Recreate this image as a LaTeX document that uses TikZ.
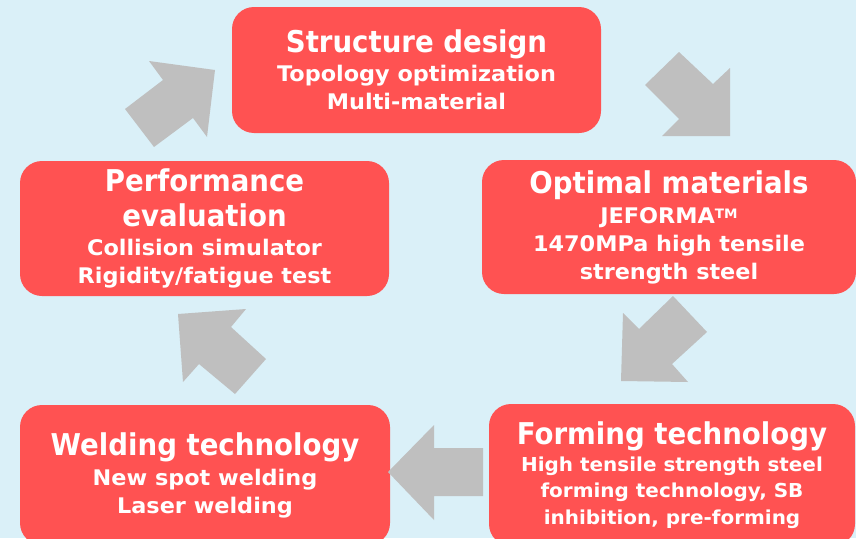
\documentclass[tikz,border=0pt]{standalone}
\usepackage{fontspec}
\setmainfont{DejaVu Sans}
\newfontfamily\headfont{DejaVu Sans}[FakeStretch=0.92]
\newfontfamily\bodyfont{DejaVu Sans}[FakeStretch=1.04]
\definecolor{bgblue}{RGB}{218,240,248}
\definecolor{boxred}{RGB}{255,82,82}
\definecolor{arrowgray}{RGB}{191,191,191}
\newcommand{\headline}[1]{{\headfont\fontsize{30}{30}\selectfont #1}}

\begin{document}
\begin{tikzpicture}[x=1pt, y=-1pt,
  stagebox/.style={fill=boxred, rounded corners=22pt, inner sep=0pt, text=white,
    align=center, font=\bodyfont\bfseries\fontsize{21.5}{28}\selectfont},
  cyclearrow/.style={fill=arrowgray}]
\fill[bgblue] (0,0) rectangle (856,538);
\useasboundingbox (0,0) rectangle (856,538);
% the five stages
\node[stagebox, minimum width=369pt, minimum height=126pt] (design) at (416.5,70)
  {\headline{Structure design}\\[1pt] Topology optimization\\ Multi-material};
\node[stagebox, minimum width=374pt, minimum height=134pt] (materials) at (669,227)
  {\headline{Optimal materials}\\[2pt] JEFORMA\raisebox{4.8pt}{\fontsize{13}{13}\selectfont TM}\\ 1470MPa high tensile\\ strength steel};
\node[stagebox, minimum width=366pt, minimum height=142pt,
  font=\bodyfont\bfseries\fontsize{19.2}{26.5}\selectfont] (forming) at (672,475)
  {\headline{Forming technology}\\ High tensile strength steel\\ forming technology, SB\\ inhibition, pre-forming};
\node[stagebox, minimum width=370pt, minimum height=140pt] (welding) at (205,475)
  {\headline{Welding technology}\\[2pt] New spot welding\\ Laser welding};
\node[stagebox, minimum width=369pt, minimum height=135pt] (evaluation) at (204.5,228.5)
  {\headline{Performance}\\[7pt] \headline{evaluation}\\[1pt] Collision simulator\\ Rigidity/fatigue test};
% block arrows between the stages
\fill[cyclearrow] (645,85) -- (679,52) -- (713,84) -- (730,68) -- (730,136) -- (662,136) -- (679,119) -- cycle;
\fill[cyclearrow] (673,296) -- (707,332) -- (672,364) -- (688,382) -- (621,381) -- (623,313) -- (639,329) -- cycle;
\fill[cyclearrow] (483,448) -- (483,496) -- (434,496) -- (434,520) -- (388,472) -- (434,425) -- (434,448) -- cycle;
\fill[cyclearrow] (266,359) -- (235,394) -- (199,364) -- (183,382) -- (178,314) -- (246,309) -- (231,327) -- cycle;
\fill[cyclearrow] (125,109) -- (154,147) -- (193,118) -- (207,137) -- (215,70) -- (149,61) -- (163,80) -- cycle;
\end{tikzpicture}
\end{document}
